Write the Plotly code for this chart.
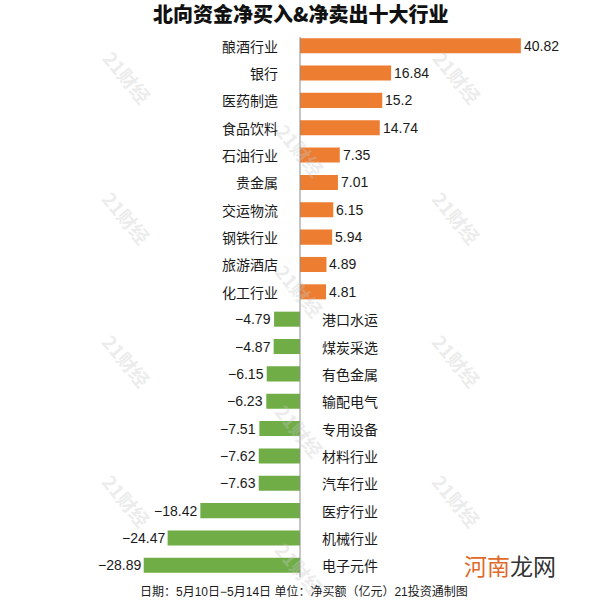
import plotly.graph_objects as go

categories = ["酿酒行业", "银行", "医药制造", "食品饮料", "石油行业", "贵金属", "交运物流",
              "钢铁行业", "旅游酒店", "化工行业", "港口水运", "煤炭采选", "有色金属", "输配电气",
              "专用设备", "材料行业", "汽车行业", "医疗行业", "机械行业", "电子元件"]
values = [40.82, 16.84, 15.2, 14.74, 7.35, 7.01, 6.15, 5.94, 4.89, 4.81,
          -4.79, -4.87, -6.15, -6.23, -7.51, -7.62, -7.63, -18.42, -24.47, -28.89]
value_labels = ["40.82", "16.84", "15.2", "14.74", "7.35", "7.01", "6.15", "5.94", "4.89", "4.81",
                "−4.79", "−4.87", "−6.15", "−6.23", "−7.51", "−7.62", "−7.63", "−18.42", "−24.47", "−28.89"]

title_text = "北向资金净买入&净卖出十大行业"
footer_text = "日期：5月10日−5月14日 单位：净买额（亿元）21投资通制图"

ORANGE = "#ED7D31"
GREEN = "#70AD47"
FONT = "Liberation Sans, Arial, Noto Sans CJK SC, sans-serif"
CJK = "Noto Sans CJK SC, sans-serif"

T, B = 32, 21
PH = 600 - T - B


def py2paper(py):
    return (600 - B - py) / PH


colors = [ORANGE if v >= 0 else GREEN for v in values]

fig = go.Figure(go.Bar(
    x=values, y=categories, orientation="h",
    marker=dict(color=colors, line=dict(width=0)),
    hoverinfo="skip",
))

annotations = []
# watermarks
wm_pos = [(127, 77), (127, 217), (127, 360), (127, 500),
          (457, 77), (457, 217), (457, 360), (457, 500),
          (300, 150), (300, 290), (300, 430), (300, 568)]
for (px, py) in wm_pos:
    annotations.append(dict(x=px / 600, y=py2paper(py), xref="paper", yref="paper",
                            text="<b>21财经</b>", showarrow=False, textangle=50,
                            font=dict(family=CJK, size=19, color="rgba(200,200,200,0.35)"),
                            xanchor="center", yanchor="middle"))

for cat, v, lab in zip(categories, values, value_labels):
    if v >= 0:
        annotations.append(dict(x=0, y=cat, text=cat, showarrow=False, xanchor="right",
                                xshift=-20, font=dict(family=CJK, size=14, color="#1a1a1a")))
        annotations.append(dict(x=v, y=cat, text=lab, showarrow=False, xanchor="left",
                                xshift=1, font=dict(family=FONT, size=14, color="#1a1a1a")))
    else:
        annotations.append(dict(x=0, y=cat, text=cat, showarrow=False, xanchor="left",
                                xshift=20, font=dict(family=CJK, size=14, color="#1a1a1a")))
        annotations.append(dict(x=v, y=cat, text=lab, showarrow=False, xanchor="right",
                                xshift=-1, font=dict(family=FONT, size=14, color="#1a1a1a")))

annotations.append(dict(x=0.5, y=py2paper(14), xref="paper", yref="paper", text=title_text,
                        showarrow=False, xanchor="center", yanchor="middle",
                        font=dict(family=CJK, size=20, color="#111", weight=900)))
annotations.append(dict(x=138 / 600, y=py2paper(591), xref="paper", yref="paper", text=footer_text,
                        showarrow=False, xanchor="left", yanchor="middle",
                        font=dict(family=FONT, size=12, color="#1a1a1a")))
annotations.append(dict(x=558 / 600, y=py2paper(565), xref="paper", yref="paper",
                        text="<span style='color:#E0692A'>河南</span><span style='color:#333'>龙网</span>",
                        showarrow=False, xanchor="right", yanchor="middle",
                        font=dict(family=CJK, size=23)))

fig.update_layout(
    width=600, height=600,
    margin=dict(l=0, r=0, t=T, b=B),
    paper_bgcolor="white", plot_bgcolor="white",
    showlegend=False,
    bargap=0.45,
    xaxis=dict(range=[-55.45, 55.45], visible=False, fixedrange=True),
    yaxis=dict(autorange="reversed", visible=False, fixedrange=True),
    annotations=annotations,
    shapes=[dict(type="line", xref="x", yref="paper", x0=0, x1=0,
                 y0=py2paper(577), y1=py2paper(37),
                 line=dict(color="#8c8c8c", width=1))],
)

fig.write_html("out.html")
